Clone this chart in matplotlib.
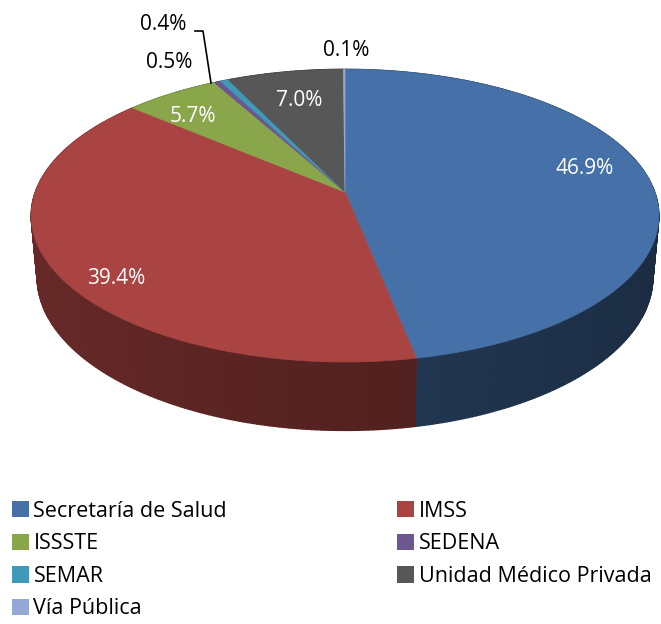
import numpy as np
import matplotlib.pyplot as plt
from matplotlib.patches import Polygon, Patch
import matplotlib.colors as mcolors

# data
categories = ['Secretaría de Salud', 'IMSS', 'ISSSTE', 'SEDENA', 'SEMAR',
              'Unidad Médico Privada', 'Vía Pública']
values = [46.9, 39.4, 5.7, 0.4, 0.5, 7.0, 0.1]
labels = ['46.9%', '39.4%', '5.7%', '0.4%', '0.5%', '7.0%', '0.1%']
colors = ['#4571A8', '#A94442', '#8AA64A', '#6E5690', '#3F9AB8', '#575757', '#93A9D4']
label_color = ['white', 'white', 'white', 'black', 'black', 'white', 'black']
label_xy = [(585, 168), (116, 278), (193, 117), (163, 25), (169, 63), (299, 100), (346, 50)]

plt.rcParams['font.family'] = ['Open Sans', 'DejaVu Sans']

fig = plt.figure(figsize=(6.61, 6.24), dpi=100)
ax = fig.add_axes([0, 0, 1, 1])
ax.set_xlim(0, 661)
ax.set_ylim(624, 0)
ax.axis('off')

# 3d pie with a simple perspective camera
cx, cy = 345, 192          # where the pie centre lands (pixels)
elev = np.radians(27.4)
dist = 5.49
focal = 1700
thick = 0.225


def proj(theta, h=0.0):
    # theta in degrees clockwise from the back (12 o'clock), h = height
    t = np.radians(theta)
    X, Z = np.sin(t), np.cos(t)
    u = h * np.cos(elev) + Z * np.sin(elev)
    w = dist + Z * np.cos(elev) - h * np.sin(elev)
    return cx + focal * X / w, cy - focal * u / w, w


def shade(c, f):
    r, g, b = mcolors.to_rgb(c)
    return (min(r * f, 1), min(g * f, 1), min(b * f, 1))


fracs = np.array(values) / np.sum(values)
ends = np.cumsum(fracs) * 360
starts = ends - fracs * 360

# side wall strips, far ones first
strips = []
for s, e, c in zip(starts, ends, colors):
    steps = np.linspace(s, e, max(2, int((e - s) / 0.75) + 2))
    for t0, t1 in zip(steps[:-1], steps[1:]):
        x0, y0, w0 = proj(t0)
        x1, y1, w1 = proj(t1)
        x2, y2, _ = proj(t1, -thick)
        x3, y3, _ = proj(t0, -thick)
        tm = np.radians((t0 + t1) / 2)
        f = 0.50 - 0.11 * np.sin(tm)
        strips.append(((w0 + w1) / 2, [(x0, y0), (x1, y1), (x2, y2), (x3, y3)], shade(c, f)))
strips.sort(key=lambda q: -q[0])
for _, poly, col in strips:
    ax.add_patch(Polygon(poly, closed=True, fc=col, ec=col, lw=1.0))

# top faces
for s, e, c in zip(starts, ends, colors):
    th = np.linspace(s, e, max(3, int(e - s) * 2 + 2))
    xs, ys, _ = proj(th)
    poly = [(cx, cy)] + list(zip(xs, ys))
    ax.add_patch(Polygon(poly, closed=True, fc=c, ec=c, lw=0.5))

# labels
for (x, y), lab, lc in zip(label_xy, labels, label_color):
    ax.text(x, y, lab, color=lc, fontsize=15, ha='center', va='center')

# leader line for the 0.4% label
ax.plot([195, 203, 211], [31, 31, 83], color='black', lw=1.2)

# legend (row-wise order like the original)
handles = [Patch(fc=c, ec='none') for c in colors]
order = [0, 2, 4, 6, 1, 3, 5]
leg = fig.legend([handles[i] for i in order], [categories[i] for i in order],
                 loc='upper left', bbox_to_anchor=(0.005, 1 - 492 / 624), ncol=2,
                 frameon=False, fontsize=15.5, handlelength=0.8, handleheight=0.8,
                 handletextpad=0.2, columnspacing=7.9, labelspacing=0.54,
                 borderaxespad=0)

plt.savefig('out.png', dpi=100)
